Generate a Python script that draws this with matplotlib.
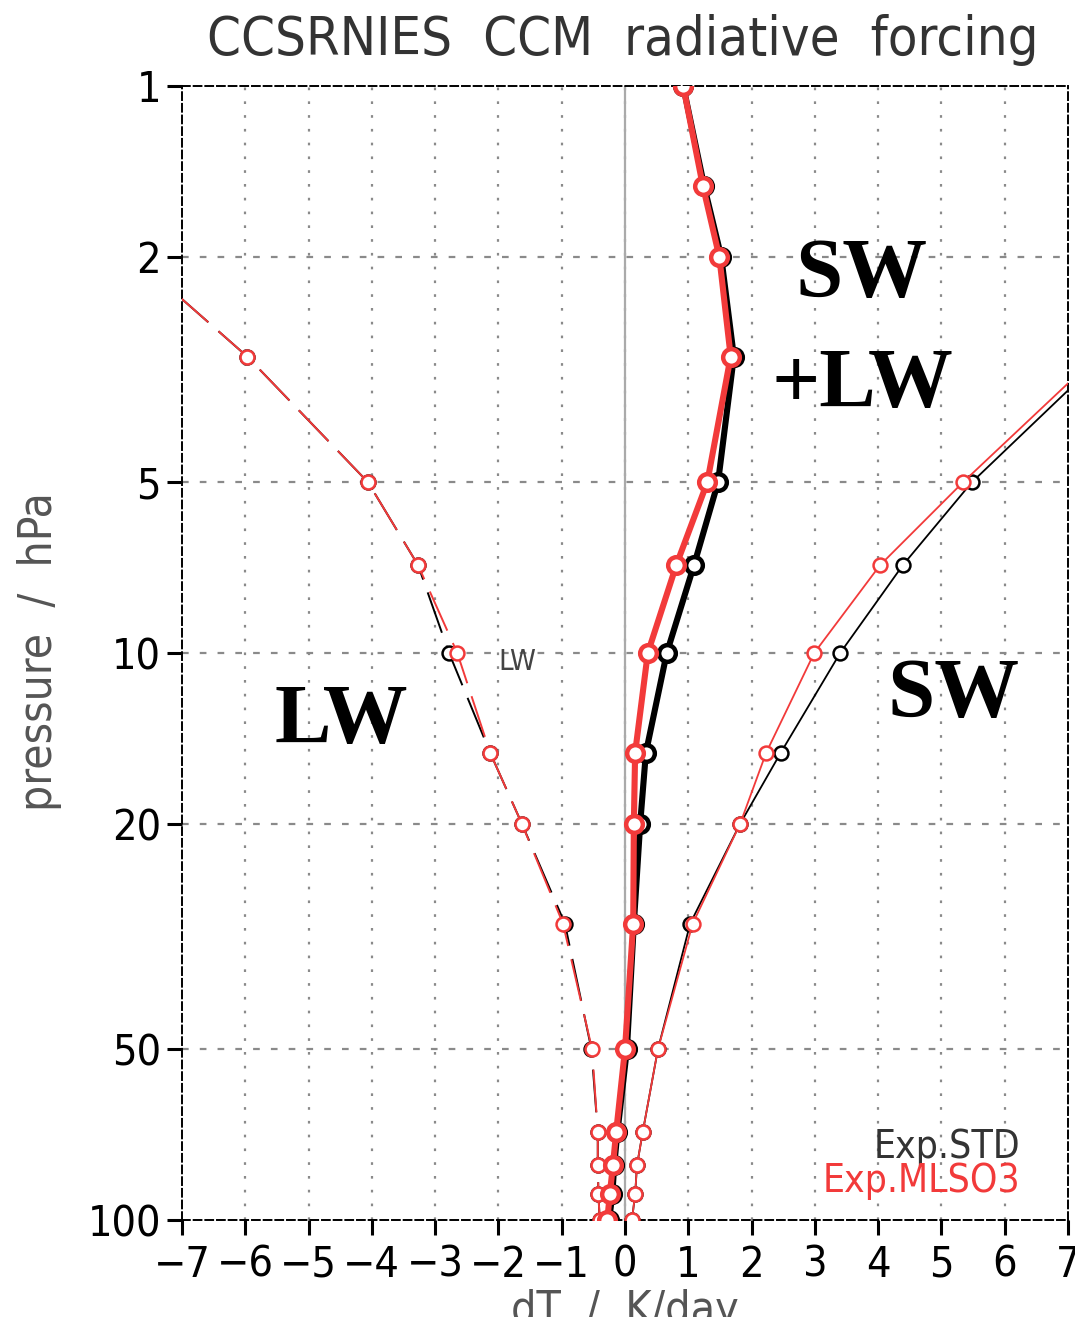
import numpy as np
import matplotlib
matplotlib.use("Agg")
import matplotlib.pyplot as plt

# pressure levels (hPa)
plev = [1, 1.5, 2, 3, 5, 7, 10, 15, 20, 30, 50, 70, 80, 90, 100]

# heating rates, K/day  (nan = not shown)
nan = np.nan
net_std = [0.92, 1.25, 1.52, 1.72, 1.47, 1.09, 0.66, 0.33, 0.24, 0.14, 0.03, -0.12, -0.17, -0.20, -0.25]
net_mls = [0.92, 1.23, 1.49, 1.67, 1.30, 0.81, 0.36, 0.16, 0.14, 0.13, 0.00, -0.14, -0.19, -0.24, -0.28]
lw_std = [nan, nan, -7.76, -5.97, -4.06, -3.27, -2.78, -2.13, -1.63, -0.95, -0.53, -0.43, -0.43, -0.42, -0.40]
lw_mls = [nan, nan, -7.76, -5.97, -4.06, -3.27, -2.65, -2.13, -1.63, -0.98, -0.52, -0.43, -0.43, -0.42, -0.40]
sw_std = [nan, nan, 9.25, 7.56, 5.48, 4.39, 3.40, 2.46, 1.82, 1.03, 0.52, 0.28, 0.19, 0.16, 0.11]
sw_mls = [nan, nan, 9.00, 7.45, 5.34, 4.03, 2.99, 2.23, 1.82, 1.07, 0.52, 0.28, 0.19, 0.16, 0.11]

xticks = list(range(-7, 8))
yticks = [1, 2, 5, 10, 20, 50, 100]
ygrid = [2, 5, 10, 20, 50]

red = '#f23a3a'
sans = ['DejaVu Sans']
serif = ['Liberation Serif', 'DejaVu Serif']

fig = plt.figure(figsize=(10.75, 13.17), dpi=100)
ax = fig.add_axes([182/1075, 1-1220/1317, 886/1075, 1134/1317])

ax.set_yscale('log')
ax.set_xlim(-7, 7)
ax.set_ylim(100, 1)

# grid
for xv in xticks[1:-1]:
    ax.axvline(xv, color='#8a8a8a', lw=1.6, ls=(0, (1.2, 5)), zorder=1)
for yv in ygrid:
    ax.axhline(yv, color='#8a8a8a', lw=1.6, ls=(0, (3, 5)), zorder=1)
ax.axvline(0, color='#aaaaaa', lw=1.6, zorder=1)

# thin curves: LW (dashed) and SW
for vals, col in [(lw_std, 'black'), (lw_mls, red)]:
    ax.plot(vals, plev, color=col, lw=1.4, dashes=(22, 7), marker='o', ms=10,
            mfc='white', mec=col, mew=1.8, zorder=3)
for vals, col in [(sw_std, 'black'), (sw_mls, red)]:
    ax.plot(vals, plev, color=col, lw=1.3, marker='o', ms=10,
            mfc='white', mec=col, mew=1.8, zorder=3)

# thick curves: SW+LW
for vals, col in [(net_std, 'black'), (net_mls, red)]:
    ax.plot(vals, plev, color=col, lw=4.4, marker='o', ms=12,
            mfc='white', mec=col, mew=3.2, zorder=4)

# frame and ticks
for s in ax.spines.values():
    s.set_linestyle((0, (4, 2)))
    s.set_linewidth(1.4)
    s.set_color('black')
ax.set_xticks(xticks)
ax.set_xticklabels([str(v).replace('-', '\u2212') for v in xticks])
ax.set_yticks(yticks)
ax.set_yticklabels([str(v) for v in yticks])
ax.yaxis.set_minor_locator(matplotlib.ticker.NullLocator())
ax.tick_params(axis='both', direction='out', length=11, width=2.2, color='black',
               labelsize=31, pad=4)
ax.tick_params(axis='x', pad=6)
for lab in ax.get_xticklabels() + ax.get_yticklabels():
    lab.set_family(sans)
    lab.set_stretch('condensed')

# titles
fig.text(623/1075, 1-40/1317, 'CCSRNIES  CCM  radiative  forcing', ha='center', va='center',
         fontsize=39, family=sans, stretch='condensed', color='#333333', fontweight='light')
fig.text(40/1075, 1-652/1317, 'pressure  /  hPa', ha='center', va='center', rotation=90,
         fontsize=33, family=sans, stretch='condensed', color='#555555')
fig.text(625/1075, 1-1311/1317, 'dT  /  K/day', ha='center', va='center',
         fontsize=32, family=sans, stretch='condensed', color='#555555')

# annotations
fig.text(862/1075, 1-276/1317, 'SW', ha='center', va='center', fontsize=61,
         family=serif, fontweight='bold')
fig.text(862/1075, 1-386/1317, '+LW', ha='center', va='center', fontsize=61,
         family=serif, fontweight='bold')
fig.text(341/1075, 1-723/1317, 'LW', ha='center', va='center', fontsize=61,
         family=serif, fontweight='bold')
fig.text(954/1075, 1-697/1317, 'SW', ha='center', va='center', fontsize=61,
         family=serif, fontweight='bold')
fig.text(517/1075, 1-662/1317, 'LW', ha='center', va='center', fontsize=21,
         family=sans, stretch='condensed', color='#444444')
fig.text(1020/1075, 1-1147/1317, 'Exp.STD', ha='right', va='center', fontsize=28,
         family=sans, stretch='condensed', color='#333333')
fig.text(1020/1075, 1-1181/1317, 'Exp.MLSO3', ha='right', va='center', fontsize=28,
         family=sans, stretch='condensed', color=red)

fig.savefig('out.png', dpi=100)
